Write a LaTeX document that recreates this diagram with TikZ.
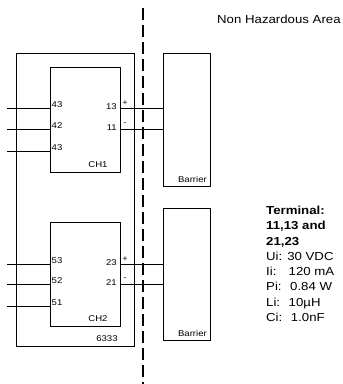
\documentclass[tikz,border=0pt]{standalone}
\usepackage{fontspec}
\setmainfont{Liberation Sans}
\usetikzlibrary{calc}
\newcommand\wide[1]{\scalebox{1.14}[1]{#1}}

\begin{document}
\begin{tikzpicture}[x=1pt,y=1pt,yscale=-1,xscale=1,
  wire/.style={line width=0.9},
  pin/.style={font=\fontsize{8.4}{10}\selectfont, inner sep=0pt},
  note/.style={font=\fontsize{11.6}{15.3}\selectfont, inner sep=0pt}
  ]
\useasboundingbox (0,0) rectangle (343,384);
%Dashed line between the areas
\coordinate (sepTop) at (143,8);
\coordinate (sepBot) at (143,384);
\draw [line width=1.2, dash pattern=on 12pt off 5pt] (sepTop) -- (sepBot);
\node [note, anchor=west] (area) at (217,19) {\wide{Non Hazardous Area}};
%Housing 6333
\draw [wire] (16,53) rectangle (134,346);
\node [pin] (type) at (107,339) {\wide{6333}};
%Channel boxes
\draw [wire] (50,67) rectangle (120,172);
\node [pin] (ch1) at (98,165) {\wide{CH1}};
\draw [wire] (50,222) rectangle (120,326);
\node [pin] (ch2) at (98,319) {\wide{CH2}};
%Barriers
\draw [wire] (163,53) rectangle (210,186);
\node [pin, anchor=south east] (bar1) at (207,183) {\wide{Barrier}};
\draw [wire] (163,208) rectangle (210,340);
\node [pin, anchor=south east] (bar2) at (207,337) {\wide{Barrier}};
%Input wires
\foreach \y/\t [count=\i] in {108/43,129/42,151/43,264/53,284/52,306/51} {
  \coordinate (in\i) at (7,\y);
  \coordinate (pin\i) at (50,\y);
  \draw [wire] (in\i) -- (pin\i);
  \node [pin, anchor=south west] (lin\i) at (51.5,\y-0.5) {\wide{\t}};
}
%Output wires to barriers
\foreach \y/\t/\s [count=\i] in {108/13/+,129/11/-,264/23/+,284/21/-} {
  \coordinate (out\i) at (120,\y);
  \coordinate (bin\i) at (163,\y);
  \draw [wire] (out\i) -- (bin\i);
  \node [pin, anchor=east] (lout\i) at (117,\y-1) {\wide{\t}};
  \node [pin] (sign\i) at (125,\y-4.5) {\s};
}
%Entity parameters
\node [note, anchor=north west, inner sep=-1pt] (param) at (267,204.5) {\wide{\begin{tabular}{@{}l@{}}
  \textbf{Terminal:}\\\textbf{11,13 and}\\\textbf{21,23}\\Ui: 30 VDC\\Ii: \ \ 120 mA\\Pi: \ 0.84 W\\Li: \ 10µH\\Ci: \ 1.0nF
  \end{tabular}}};
\end{tikzpicture}
\end{document}
